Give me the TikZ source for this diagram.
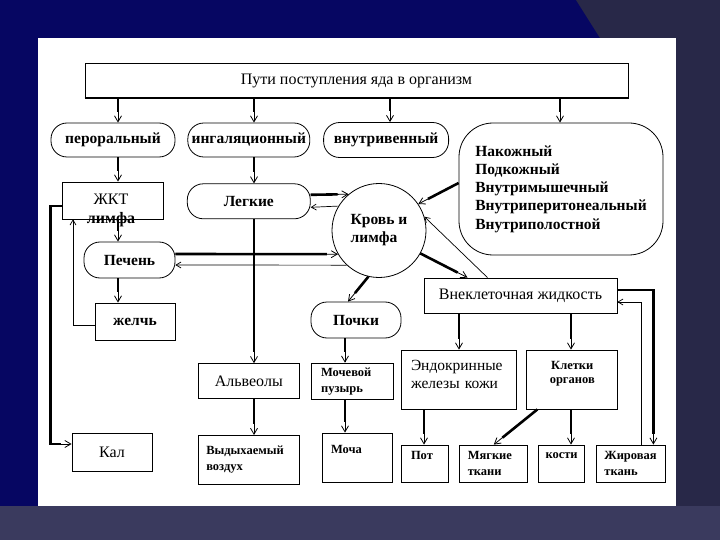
\documentclass[tikz,border=0pt]{standalone}
\usepackage{fontspec}
\setmainfont{Liberation Serif}
\usepackage{tikz}
\usetikzlibrary{arrows.meta,positioning}

\definecolor{slidenavy}{RGB}{6,6,98}
\definecolor{slidegrey}{RGB}{40,40,72}
\definecolor{slideband}{RGB}{58,58,94}

\begin{document}
\begin{tikzpicture}[
    x=1pt, y=-1pt,
    font=\fontsize{15.5}{18}\selectfont\bfseries,
    box/.style={draw, line width=0.8pt, inner sep=0pt, align=center},
    route/.style={draw, line width=0.8pt, rounded corners=16pt, inner sep=0pt, align=center},
    cell/.style={box, align=left, font=\fontsize{12.5}{16}\selectfont\bfseries},
    regular/.style={font=\fontsize{16}{18}\selectfont\mdseries},
    flow/.style={line width=2.6pt, shorten >=11pt,
      preaction={draw, line width=0.8pt, shorten >=0pt, -{Straight Barb[length=6pt,width=7pt]}}},
    back/.style={line width=0.7pt, -{Straight Barb[length=5pt,width=6pt]}}
  ]
    % slide background
    \fill[slidenavy] (0,0) rectangle (720,540);
    \fill[slidegrey] (576,0) -- (720,0) -- (720,540) -- (0,540) -- (0,506) -- (676,506) -- (676,38) -- (600,38) -- cycle;
    \fill[slideband] (0,506) rectangle (720,540);
    \fill[white] (38,38) rectangle (676,506);
    \useasboundingbox (0,0) rectangle (720,540);

    \node[box, regular, minimum width=543pt, minimum height=35pt] (title) at (356.5,80.5) {Пути поступления яда в организм};
    \draw[line width=1.8pt] (title.south west) -- (title.south east);

    \node[route, minimum width=124pt, minimum height=34pt] (peroral) at (113,140) {пероральный};
    \node[route, minimum width=122pt, minimum height=34pt, right=12pt of peroral] (inhal) {ингаляционный};
    \node[route, minimum width=125pt, minimum height=35pt, right=13pt of inhal] (iv) {внутривенный};
    \node[route, rounded corners=34pt, minimum width=204pt, minimum height=132pt, align=left,
      font=\fontsize{15.5}{18.3}\selectfont\bfseries] (skin) at (561,189)
      {Накожный\\Подкожный\\Внутримышечный\\Внутриперитонеальный\\Внутриполостной};

    \node[box, minimum width=101pt, minimum height=37pt] (gkt) at (112.5,200.5) {};
    \node[regular, font=\fontsize{16}{19}\selectfont, align=center] (gkttext) at (111,210) {ЖКТ\\\textbf{лимфа}};
    \node[route, minimum width=123pt, minimum height=35pt, below=26pt of inhal] (lungs) {Легкие};
    \node[circle, draw, line width=0.8pt, minimum size=94pt, inner sep=0pt, align=left] (blood) at (379,230.5) {Кровь и\\лимфа};
    \node[route, minimum width=91pt, minimum height=36pt] (liver) at (129.5,260) {Печень};
    \node[box, minimum width=80pt, minimum height=37pt] (bile) at (135,321.5) {желчь};
    \node[box, regular, minimum width=193pt, minimum height=35pt] (extra) at (520.5,295.5) {Внеклеточная жидкость};
    \node[route, minimum width=90pt, minimum height=36pt] (kidney) at (356,320) {Почки};

    \node[box, regular, minimum width=101pt, minimum height=35pt, below=144pt of lungs] (alveoli) {Альвеолы};
    \node[cell, text width=62pt, inner xsep=10pt, minimum height=36pt, right=11pt of alveoli] (bladder) {Мочевой\\пузырь};
    \node[box, align=left, font=\fontsize{15.5}{18}\selectfont\mdseries, text width=95pt, inner xsep=10pt,
      minimum height=59pt] (endo) at (458.5,379.5) {Эндокринные\\железы кожи\\[-7pt]\mbox{}};
    \node[box, minimum width=91pt, minimum height=59pt, font=\fontsize{12.5}{14.5}\selectfont\bfseries,
      right=10pt of endo] (cells) {Клетки\\органов\\\mbox{}};

    \node[box, regular, minimum width=80pt, minimum height=38pt] (feces) at (112,452) {Кал};
    \node[cell, text width=85pt, inner xsep=8pt, minimum height=49pt, below=36pt of alveoli] (exhaled) {Выдыхаемый\\воздух};
    \node[cell, text width=52pt, inner xsep=9pt, minimum height=49pt] (urine) at (357,457.5) {Моча\\\mbox{}};
    \node[cell, text width=27pt, inner xsep=10pt, minimum height=37pt] (sweat) at (424.5,463.5) {Пот\\\mbox{}};
    \node[cell, text width=52pt, inner xsep=8pt, minimum height=37pt, right=11pt of sweat] (soft) {Мягкие\\ткани};
    \node[cell, align=center, minimum width=46pt, minimum height=37pt, right=10pt of soft] (bones) {кости\\\mbox{}};
    \node[cell, text width=53pt, inner xsep=8pt, minimum height=37pt, right=11pt of bones] (fat) {Жировая\\ткань};

    % vertical axes of the arrows
    \coordinate (colL) at (118,0);
    \coordinate (colM) at (254,0);
    \coordinate (colR) at (390,0);
    \coordinate (colS) at (560,0);
    \coordinate (colK) at (345,0);
    \coordinate (colE) at (459,0);
    \coordinate (colF) at (571,0);
    \coordinate (colP) at (424,0);

    \draw[flow] (title.south -| colL) -- (peroral.north -| colL);
    \draw[flow] (title.south -| colM) -- (inhal.north -| colM);
    \draw[flow] (title.south -| colR) -- (iv.north -| colR);
    \draw[flow] (title.south -| colS) -- (skin.north -| colS);

    \draw[flow] (peroral.south -| colL) -- (gkt.north -| colL);
    \draw[flow] (gkt.south -| colL) -- (liver.north -| colL);
    \draw[flow] (liver.south -| colL) -- (bile.north -| colL);
    \draw[flow] ([yshift=-5.5pt]gkt.west) -- ++(-11,0) |- ([yshift=8pt]feces.west);
    \draw[back] ([yshift=-3.5pt]bile.west) -| ([xshift=-39.5pt]gkt.south);

    \draw[flow] (inhal.south -| colM) -- (lungs.north -| colM);
    \draw[flow] (lungs.south -| colM) -- (alveoli.north -| colM);
    \draw[flow] (alveoli.south -| colM) -- (exhaled.north -| colM);

    \draw[flow] ([yshift=6.5pt]lungs.east) -- (blood.130);
    \draw[back] (blood.149) -- ([yshift=-6pt]lungs.east);
    \draw[flow] ([yshift=6pt]liver.east) -- (blood.210);
    \draw[back] (blood.227) -- ([yshift=-5pt]liver.east);
    \draw[flow] ([yshift=6pt]skin.west) -- (blood.34);
    \draw[flow] (blood.-29) -- ([xshift=-53pt]extra.north);
    \draw[back] ([xshift=-33pt]extra.north) -- (blood.17);
    \draw[flow] (blood.257) -- ([xshift=-8pt]kidney.north);

    \draw[flow] (kidney.south -| colK) -- (bladder.north -| colK);
    \draw[flow] (bladder.south -| colK) -- (urine.north -| colK);

    \draw[flow] (extra.south -| colE) -- (endo.north -| colE);
    \draw[flow] (extra.south -| colF) -- (cells.north -| colF);
    \draw[flow] (endo.south -| colP) -- (sweat.north -| colP);
    \draw[flow] (cells.south -| colF) -- (bones.north -| colF);
    \draw[flow] ([xshift=11pt]cells.south west) -- (soft.north);
    \draw[flow] ([yshift=5.5pt]extra.east) -| ([xshift=22.5pt]fat.north);
    \draw[back] ([xshift=10.5pt]fat.north) |- ([yshift=-6.5pt]extra.east);
\end{tikzpicture}
\end{document}
